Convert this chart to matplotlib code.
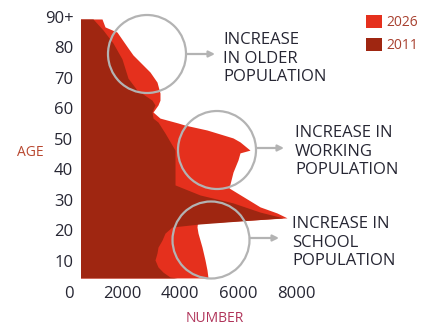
import matplotlib
matplotlib.use("Agg")
import matplotlib.pyplot as plt
from matplotlib.patches import Circle, Patch

plt.rcParams['font.family'] = ['Open Sans', 'DejaVu Sans']

# ---- data ----
ages_2011 = [5.1, 5.4, 7.0, 8.7, 11.0, 13.3, 15.2, 17.5, 19.8, 21.8, 22.8, 23.8, 24.8,
             26.7, 29.7, 32.3, 35.6, 40.5, 47.0, 52.6, 56.2, 57.5, 59.5, 61.8, 63.4,
             66.7, 70.6, 76.9, 82.1, 86.4, 90.0]
pop_2011 = [3897, 3655, 3414, 3241, 3138, 3207, 3241, 3379, 3483, 3724, 4690, 6100, 7552,
            6759, 5828, 4690, 3828, 3828, 3828, 3483, 3241, 3069, 3034, 3138, 3034,
            2517, 2207, 2000, 1690, 1345, 1000]

ages_2026 = [5.1, 7.7, 11.0, 15.2, 19.8, 21.8, 23.0, 24.8, 26.4, 28.4, 33.0, 34.6, 37.2,
             39.8, 43.8, 46.1, 47.0, 49.7, 51.0, 53.6, 55.2, 55.9, 57.5, 59.5, 61.8,
             63.4, 65.7, 69.3, 72.6, 78.2, 80.5, 85.7, 87.4, 90.0]
pop_2026 = [4966, 4931, 4862, 4759, 4621, 4586, 4600, 7690, 7345, 6759, 5966, 5690, 5759,
            5828, 6000, 6069, 6414, 6069, 5828, 4931, 4172, 3931, 3310, 3069, 3241,
            3310, 3310, 3207, 2966, 2379, 2207, 1828, 1414, 1310]

x_ticks = [2000, 4000, 6000, 8000]
x_tick_labels = ['2000', '4000', '6000', '8000']
y_ticks = [0, 10, 20, 30, 40, 50, 60, 70, 80, 90]
y_tick_labels = ['0', '10', '20', '30', '40', '50', '60', '70', '80', '90+']
series_labels = ['2026', '2011']

annotations = ['INCREASE\nIN OLDER\nPOPULATION',
               'INCREASE IN\nWORKING\nPOPULATION',
               'INCREASE IN\nSCHOOL\nPOPULATION']

# ---- styling ----
C2026 = '#e5301d'
C2011 = '#9f2611'
GRAY = '#b3b3b3'
TXT = '#262633'

W, H = 427, 325
fig = plt.figure(figsize=(W / 100, H / 100), dpi=100)

def fx(px):
    return px / W

def fy(py):
    return (H - py) / H

ax = fig.add_axes([fx(81), fy(293.5), 1 - fx(81), fy(17.3) - fy(293.5)])
ax.fill_betweenx(ages_2026, 0, pop_2026, color=C2026, lw=0, zorder=2)
ax.fill_betweenx(ages_2011, 0, pop_2011, color=C2011, lw=0, zorder=3)

ax.set_xlim((81 - 64) / 0.029, (427 - 64) / 0.029)
ax.set_ylim(0, 90.55)
for s in ax.spines.values():
    s.set_visible(False)

ax.set_xticks(x_ticks)
ax.set_xticklabels(x_tick_labels)
ax.set_yticks(y_ticks)
ax.set_yticklabels(y_tick_labels)
ax.tick_params(axis='both', length=0, labelsize=12, labelcolor=TXT)
ax.tick_params(axis='x', pad=0)
ax.tick_params(axis='y', pad=5.5)
plt.setp(ax.get_xticklabels(), va='center')
plt.setp(ax.get_yticklabels(), va='center')

# axis labels
fig.text(fx(30), fy(153), 'AGE', color='#b8472f', fontsize=10, ha='center', va='center')
fig.text(fx(215), fy(318), 'NUMBER', color='#b0345a', fontsize=10, ha='center', va='center')

# legend
handles = [Patch(facecolor=C2026, edgecolor='none'), Patch(facecolor=C2011, edgecolor='none')]
leg = fig.legend(handles, series_labels, loc='upper left',
                 bbox_to_anchor=(fx(366), fy(15)), frameon=False, borderpad=0,
                 borderaxespad=0, handlelength=1.15, handleheight=1.1,
                 handletextpad=0.35, labelspacing=0.55, fontsize=10)
for t in leg.get_texts():
    t.set_color('#a8402f')

# circles, arrows, annotation text (pixel positions)
circles = [(147, 54, 39), (217, 150, 39), (211, 240, 38.5)]
arrows = [(187, 54, 215), (257, 148, 284), (250, 238, 279)]
texts = [(223, 32), (295, 125), (292, 216)]

for (cx, cy, r) in circles:
    c = Circle((cx / 100, (H - cy) / 100), r / 100, transform=fig.dpi_scale_trans,
               fill=False, edgecolor=GRAY, lw=1.6, zorder=10)
    fig.patches.append(c)

for (x0, y0, x1) in arrows:
    fig.add_artist(matplotlib.patches.FancyArrowPatch(
        (x0 / 100, (H - y0) / 100), (x1 / 100, (H - y0) / 100),
        transform=fig.dpi_scale_trans, arrowstyle='-|>', mutation_scale=9,
        color=GRAY, lw=1.6, shrinkA=0, shrinkB=0))

for (tx, ty), s in zip(texts, annotations):
    fig.text(fx(tx), fy(ty), s, fontsize=12, color=TXT, ha='left', va='top',
             linespacing=1.22)

fig.savefig('out.png', dpi=100)
